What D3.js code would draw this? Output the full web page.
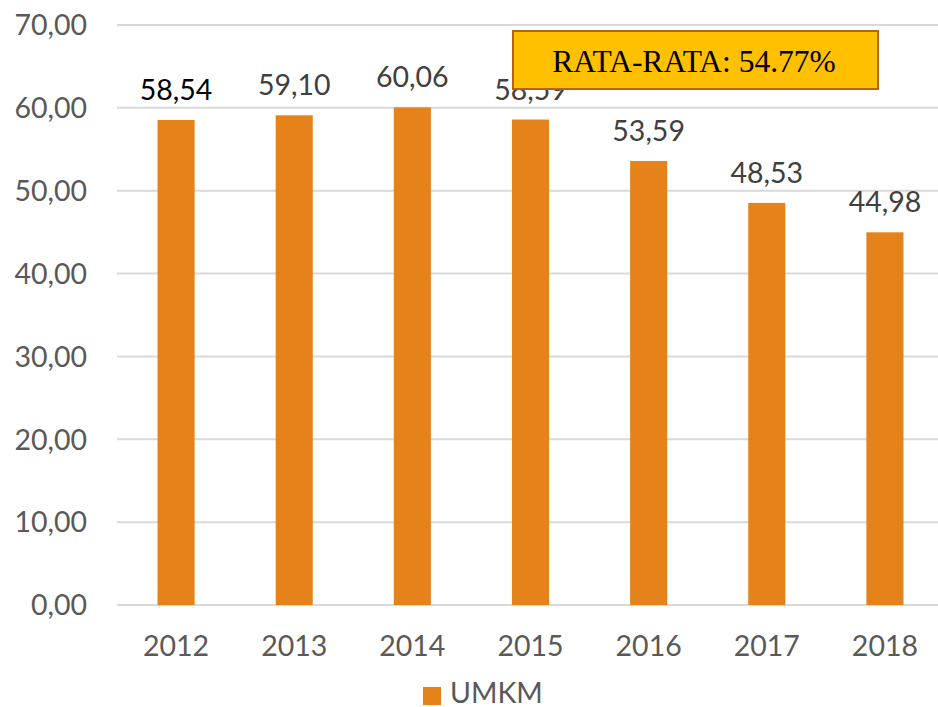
<!DOCTYPE html>
<html><head><meta charset="utf-8">
<script src="https://cdn.jsdelivr.net/npm/d3@7"></script>
<style>
html,body{margin:0;padding:0;background:#fff;}
svg{display:block;}
</style></head>
<body>
<script>
const categories = ["2012","2013","2014","2015","2016","2017","2018"];
const values = [58.54, 59.10, 60.06, 58.59, 53.59, 48.53, 44.98];
const labels = ["58,54","59,10","60,06","58,59","53,59","48,53","44,98"];
const yTicks = [0,10,20,30,40,50,60,70];
const seriesName = "UMKM";
const annotation = "RATA-RATA: 54.77%";

const W = 938, H = 707;
const svg = d3.select("body").append("svg").attr("width", W).attr("height", H);
const font = "Lato, 'Open Sans', sans-serif";
const fs = 28.5;

const x = d3.scaleBand().domain(categories).range([117, 944]).paddingInner(0.686).paddingOuter(0.343);
const y = d3.scaleLinear().domain([0, 70]).range([605, 25]);

// gridlines
svg.append("g").selectAll("line").data(yTicks).join("line")
  .attr("x1", 117).attr("x2", 944)
  .attr("y1", d => y(d)).attr("y2", d => y(d))
  .attr("stroke", "#d9d9d9").attr("stroke-width", 2);

// y tick labels
const fmt = d => d3.format(".2f")(d).replace(".", ",");
svg.append("g").selectAll("text").data(yTicks).join("text")
  .attr("x", 87).attr("y", d => y(d)).attr("dy", "0.36em")
  .attr("text-anchor", "end")
  .attr("font-family", font).attr("font-size", fs).attr("fill", "#595959")
  .text(fmt);

// bars
svg.append("g").selectAll("rect").data(values).join("rect")
  .attr("x", (d,i) => x(categories[i]))
  .attr("width", x.bandwidth())
  .attr("y", d => y(d))
  .attr("height", d => y(0) - y(d))
  .attr("fill", "#E5831A");

// x labels
svg.append("g").selectAll("text").data(categories).join("text")
  .attr("x", d => x(d) + x.bandwidth()/2).attr("y", 656)
  .attr("text-anchor", "middle")
  .attr("font-family", font).attr("font-size", fs).attr("fill", "#595959")
  .text(d => d);

// data labels
svg.append("g").selectAll("text").data(values).join("text")
  .attr("x", (d,i) => x(categories[i]) + x.bandwidth()/2)
  .attr("y", d => y(d) - 20)
  .attr("text-anchor", "middle")
  .attr("font-family", font).attr("font-size", fs)
  .attr("fill", (d,i) => i === 0 ? "#000" : "#404040")
  .text((d,i) => labels[i]);

// legend
svg.append("rect").attr("x", 423).attr("y", 687).attr("width", 18).attr("height", 18).attr("fill", "#E5831A");
svg.append("text").attr("x", 450).attr("y", 703)
  .attr("font-family", font).attr("font-size", fs).attr("fill", "#595959").text(seriesName);

// annotation box
svg.append("rect").attr("x", 513).attr("y", 31).attr("width", 365).attr("height", 58)
  .attr("fill", "#FFC000").attr("stroke", "#B4650C").attr("stroke-width", 2);
svg.append("text").attr("x", 694).attr("y", 72)
  .attr("text-anchor", "middle")
  .attr("font-family", "'Liberation Serif', 'Times New Roman', serif").attr("font-size", 31.5).attr("fill", "#000")
  .text(annotation);
</script>
</body></html>
